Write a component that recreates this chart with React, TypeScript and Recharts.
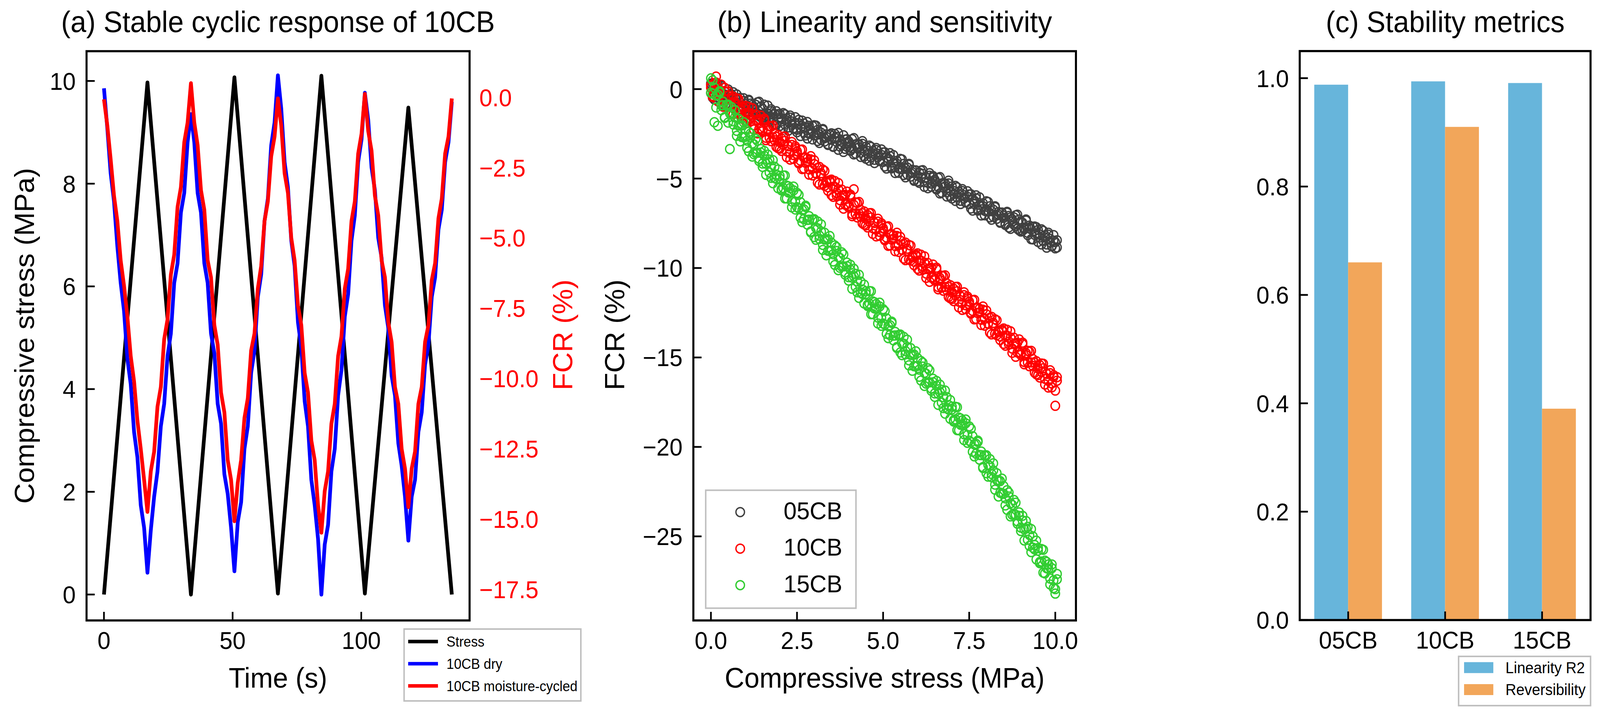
import React from 'react'
import { LineChart, Line, ScatterChart, Scatter, BarChart, Bar, XAxis, YAxis } from 'recharts'

const FONT = '"Liberation Sans", Arial, Helvetica, sans-serif'
const W = 4300
const H = 1830

// ---- (a) stable cyclic response of 10CB ----
const stressTime = [0, 16.9, 33.8, 50.7, 67.6, 84.5, 101.4, 118.3, 135.2]
const stressValue = [0, 9.97, 0, 10.07, 0.02, 10.1, 0.02, 9.48, 0]

const fcrTime = [
  0, 1.3, 2.6, 3.9, 5.2, 6.5, 7.8, 9.1, 10.4, 11.7, 13, 14.3, 15.6, 16.9,
  18.2, 19.5, 20.8, 22.1, 23.4, 24.7, 26, 27.3, 28.6, 29.9, 31.2, 32.5, 33.8,
  35.1, 36.4, 37.7, 39, 40.3, 41.6, 42.9, 44.2, 45.5, 46.8, 48.1, 49.4, 50.7,
  52, 53.3, 54.6, 55.9, 57.2, 58.5, 59.8, 61.1, 62.4, 63.7, 65, 66.3, 67.6,
  68.9, 70.2, 71.5, 72.8, 74.1, 75.4, 76.7, 78, 79.3, 80.6, 81.9, 83.2, 84.5,
  85.8, 87.1, 88.4, 89.7, 91, 92.3, 93.6, 94.9, 96.2, 97.5, 98.8, 100.1, 101.4,
  102.7, 104, 105.3, 106.6, 107.9, 109.2, 110.5, 111.8, 113.1, 114.4, 115.7, 117, 118.3,
  119.6, 120.9, 122.2, 123.5, 124.8, 126.1, 127.4, 128.7, 130, 131.3, 132.6, 133.9, 135.2,
]
const fcrDry = [
  0.32, -1.1, -2.7, -3.7, -5.3, -6.6, -7.6, -9.3, -10.2, -11.9, -12.8, -14.5, -15.3, -16.9,
  -15.4, -14.2, -13.3, -11.7, -10.9, -9.2, -8.4, -6.6, -5.9, -4.1, -3.4, -1.6, -0.6,
  -1.6, -3.4, -4.1, -5.9, -6.6, -8.4, -9.1, -10.9, -11.6, -13.4, -14.1, -15.3, -16.85,
  -15.1, -14.4, -12.5, -11.7, -9.8, -9.0, -7.1, -6.3, -4.4, -3.6, -1.7, -0.9, 0.78,
  -0.4, -2.3, -3.2, -5.1, -6.0, -8.0, -8.9, -10.8, -11.7, -13.6, -14.5, -15.7, -17.68,
  -15.9, -15.2, -13.3, -12.5, -10.6, -9.7, -7.8, -7.0, -5.1, -4.2, -2.3, -1.5, 0.16,
  -0.8, -2.5, -3.3, -5.0, -5.7, -7.4, -8.2, -9.9, -10.6, -12.3, -13.1, -14.2, -15.76,
  -14.2, -13.6, -11.9, -11.2, -9.5, -8.8, -7.1, -6.4, -4.7, -4.0, -2.3, -1.6, -0.16,
]
const fcrCycled = [
  -0.07, -1.0, -2.2, -3.5, -4.4, -5.8, -6.7, -7.8, -9.2, -10.1, -11.5, -12.5, -13.6, -14.74,
  -13.3, -12.6, -11.0, -10.3, -8.6, -7.9, -6.3, -5.6, -3.9, -3.2, -1.6, -0.9, 0.5,
  -0.9, -1.7, -3.3, -4.0, -5.8, -6.4, -8.1, -8.8, -10.5, -11.2, -12.9, -13.6, -15.07,
  -13.7, -12.9, -11.4, -10.7, -9.0, -8.4, -6.8, -6.0, -4.4, -3.7, -2.1, -1.4, -0.04,
  -1.0, -2.7, -3.4, -5.0, -5.8, -7.4, -8.1, -9.8, -10.5, -12.2, -12.9, -14.5, -15.48,
  -14.0, -13.3, -11.6, -10.9, -9.2, -8.5, -6.8, -6.1, -4.4, -3.7, -2.0, -1.3, 0.12,
  -1.2, -1.9, -3.5, -4.2, -5.8, -6.4, -8.0, -8.7, -10.3, -10.9, -12.5, -13.2, -14.57,
  -13.2, -12.6, -10.9, -10.3, -8.7, -8.1, -6.5, -5.9, -4.3, -3.6, -2.0, -1.4, -0.04,
]
const seriesA = ['Stress', '10CB dry', '10CB moisture-cycled']
const colorsA = ['#000000', '#0000ff', '#ff0000']

// ---- (b) linearity and sensitivity ----
const stressLevels = [
  0.00, 0.05, 0.10, 0.15, 0.20, 0.25, 0.30, 0.35, 0.40, 0.45,
  0.50, 0.55, 0.60, 0.65, 0.70, 0.75, 0.80, 0.85, 0.90, 0.95,
  1.00, 1.05, 1.10, 1.15, 1.20, 1.25, 1.30, 1.35, 1.40, 1.45,
  1.50, 1.55, 1.60, 1.65, 1.70, 1.75, 1.80, 1.85, 1.90, 1.95,
  2.00, 2.05, 2.10, 2.15, 2.20, 2.25, 2.30, 2.35, 2.40, 2.45,
  2.50, 2.55, 2.60, 2.65, 2.70, 2.75, 2.80, 2.85, 2.90, 2.95,
  3.00, 3.05, 3.10, 3.15, 3.20, 3.25, 3.30, 3.35, 3.40, 3.45,
  3.50, 3.55, 3.60, 3.65, 3.70, 3.75, 3.80, 3.85, 3.90, 3.95,
  4.00, 4.05, 4.10, 4.15, 4.20, 4.25, 4.30, 4.35, 4.40, 4.45,
  4.50, 4.55, 4.60, 4.65, 4.70, 4.75, 4.80, 4.85, 4.90, 4.95,
  5.00, 5.05, 5.10, 5.15, 5.20, 5.25, 5.30, 5.35, 5.40, 5.45,
  5.50, 5.55, 5.60, 5.65, 5.70, 5.75, 5.80, 5.85, 5.90, 5.95,
  6.00, 6.05, 6.10, 6.15, 6.20, 6.25, 6.30, 6.35, 6.40, 6.45,
  6.50, 6.55, 6.60, 6.65, 6.70, 6.75, 6.80, 6.85, 6.90, 6.95,
  7.00, 7.05, 7.10, 7.15, 7.20, 7.25, 7.30, 7.35, 7.40, 7.45,
  7.50, 7.55, 7.60, 7.65, 7.70, 7.75, 7.80, 7.85, 7.90, 7.95,
  8.00, 8.05, 8.10, 8.15, 8.20, 8.25, 8.30, 8.35, 8.40, 8.45,
  8.50, 8.55, 8.60, 8.65, 8.70, 8.75, 8.80, 8.85, 8.90, 8.95,
  9.00, 9.05, 9.10, 9.15, 9.20, 9.25, 9.30, 9.35, 9.40, 9.45,
  9.50, 9.55, 9.60, 9.65, 9.70, 9.75, 9.80, 9.85, 9.90, 9.95,
  10.00, 10.05,
]
// loading pass
const fcr05Load = [
  0.31, -0.47, 0.03, -0.22, 0.28, -0.5, -0.24, -0.83, -0.14, -0.56,
  -0.81, -0.32, -0.59, -0.18, -0.85, -0.59, -1.19, -0.49, -0.93, -0.51,
  -0.83, -1.25, -0.6, -1.45, -0.89, -1.11, -0.88, -1.35, -0.71, -1.57,
  -1.42, -0.87, -1.73, -1.37, -1.68, -1.13, -1.59, -1.39, -1.99, -1.4,
  -1.39, -1.8, -2.18, -1.41, -1.77, -2.14, -1.48, -1.99, -2.18, -1.88,
  -2.41, -1.91, -2.18, -1.76, -2.43, -2.16, -2.76, -2.05, -2.49, -2.06,
  -2.59, -2.04, -2.9, -2.53, -2.83, -2.28, -2.74, -2.53, -3.12, -2.53,
  -2.47, -3.23, -2.72, -2.95, -2.45, -3.21, -2.94, -3.51, -2.82, -3.22,
  -3.03, -3.45, -2.8, -3.65, -3.09, -3.31, -3.08, -3.55, -2.91, -3.77,
  -3.22, -3.62, -4.0, -3.23, -3.59, -3.95, -3.29, -3.8, -3.99, -3.68,
  -3.54, -4.32, -3.83, -4.07, -3.58, -4.36, -4.11, -4.69, -4.01, -4.43,
  -4.47, -3.93, -4.8, -4.45, -4.77, -4.23, -4.7, -4.51, -5.12, -4.54,
  -5.16, -4.67, -4.94, -4.53, -5.2, -4.94, -5.54, -4.84, -5.28, -4.86,
  -5.18, -5.61, -4.96, -5.83, -5.27, -5.5, -5.27, -5.76, -5.12, -5.99,
  -5.44, -5.86, -6.25, -5.49, -5.86, -6.24, -5.59, -6.11, -6.31, -6.02,
  -5.89, -6.67, -6.18, -6.43, -5.94, -6.72, -6.47, -7.06, -6.38, -6.8,
  -6.84, -6.31, -7.17, -6.82, -7.13, -6.6, -7.06, -6.87, -7.47, -6.9,
  -7.08, -7.51, -6.86, -7.73, -7.17, -7.4, -7.17, -7.66, -7.02, -7.89,
  -7.96, -7.47, -7.76, -7.35, -8.03, -7.77, -8.39, -7.69, -8.14, -7.72,
  -7.87, -8.29, -8.68, -7.92, -8.3, -8.68, -8.03, -8.55, -8.76, -8.47,
  -8.9, -8.45,
]
const fcr10Load = [
  0.08, -0.44, 0.33, 0.7, -0.07, -0.35, 0.25, -0.69, 0.07, -0.99,
  -0.34, -0.85, -1.32, -0.42, -0.86, -1.33, -0.55, -1.18, -1.42, -1.08,
  -0.93, -1.88, -1.32, -1.64, -1.07, -2.02, -1.74, -2.47, -1.68, -2.2,
  -2.27, -1.65, -2.72, -2.32, -2.72, -2.1, -2.69, -2.48, -3.23, -2.57,
  -3.33, -2.76, -3.12, -2.65, -3.48, -3.19, -3.94, -3.12, -3.68, -3.2,
  -3.62, -4.15, -3.4, -4.47, -3.83, -4.12, -3.88, -4.49, -3.75, -4.82,
  -4.19, -4.72, -5.23, -4.35, -4.82, -5.31, -4.57, -5.22, -5.49, -5.17,
  -5.06, -6.02, -5.47, -5.8, -5.25, -6.21, -5.94, -6.68, -5.91, -6.44,
  -6.52, -5.9, -6.98, -5.6, -6.98, -6.36, -6.96, -6.75, -7.5, -6.84,
  -7.61, -7.04, -7.4, -6.93, -7.77, -7.48, -8.23, -7.41, -7.98, -7.5,
  -7.92, -8.45, -7.7, -8.76, -8.12, -8.41, -8.17, -8.77, -8.03, -9.1,
  -8.47, -8.99, -9.47, -8.58, -9.04, -9.52, -8.75, -9.39, -9.65, -9.32,
  -9.18, -10.14, -9.59, -9.91, -9.35, -10.31, -10.04, -10.77, -9.99, -10.52,
  -10.6, -9.98, -11.06, -10.67, -11.08, -10.46, -11.06, -10.86, -11.62, -10.96,
  -11.73, -11.16, -11.52, -11.05, -11.88, -11.59, -12.34, -11.52, -12.08, -11.6,
  -12.02, -12.55, -11.8, -12.87, -12.23, -12.52, -12.28, -12.89, -12.15, -13.22,
  -12.59, -13.12, -13.61, -12.73, -13.19, -13.68, -12.92, -13.57, -13.83, -13.51,
  -13.38, -14.34, -13.78, -14.11, -13.54, -14.5, -14.22, -14.96, -14.17, -14.7,
  -14.77, -14.17, -15.25, -14.87, -15.28, -14.68, -15.28, -15.09, -15.85, -15.21,
  -15.98, -15.43, -15.8, -15.35, -16.19, -15.92, -16.68, -15.88, -16.45, -15.99,
  -17.7, -16.3,
]
const fcr15Load = [
  -0.2, 0.49, -1.85, -0.36, -2.05, -0.19, -0.91, -0.7, -1.61, -0.88,
  -0.87, -3.35, -1.39, -1.8, -1.18, -2.33, -2.04, -2.92, -2.03, -2.68,
  -2.24, -2.88, -3.48, -2.48, -3.04, -3.64, -2.78, -3.56, -3.89, -3.55,
  -4.35, -3.73, -4.17, -3.66, -4.66, -4.35, -5.26, -4.34, -5.02, -4.49,
  -5.0, -5.66, -4.83, -6.11, -5.4, -5.78, -5.53, -6.28, -5.45, -6.73,
  -6.6, -5.91, -7.19, -6.76, -7.27, -6.59, -7.31, -7.1, -8.01, -7.28,
  -7.27, -8.42, -7.78, -8.19, -7.56, -8.71, -8.41, -9.29, -8.39, -9.04,
  -8.59, -9.23, -9.83, -8.83, -9.39, -9.99, -9.13, -9.91, -10.24, -9.9,
  -10.7, -10.09, -10.54, -10.04, -11.05, -10.75, -11.67, -10.76, -11.45, -10.93,
  -11.45, -12.12, -11.29, -12.58, -11.87, -12.26, -12.01, -12.77, -11.94, -13.23,
  -13.1, -12.41, -13.68, -13.25, -13.75, -13.07, -13.78, -13.57, -14.47, -13.74,
  -13.72, -14.87, -14.23, -14.64, -14.01, -15.16, -14.86, -15.74, -14.84, -15.49,
  -15.04, -15.68, -16.29, -15.29, -15.86, -16.46, -15.61, -16.39, -16.73, -16.39,
  -17.2, -16.58, -17.03, -16.52, -17.53, -17.22, -18.14, -17.22, -17.91, -17.38,
  -17.9, -18.58, -17.76, -19.06, -18.36, -18.76, -18.52, -19.29, -18.47, -19.77,
  -19.65, -18.98, -20.27, -19.86, -20.38, -19.72, -20.45, -20.26, -21.18, -20.47,
  -20.47, -21.66, -21.06, -21.51, -20.92, -22.11, -21.85, -22.77, -21.91, -22.6,
  -22.19, -22.87, -23.51, -22.55, -23.15, -23.79, -22.97, -23.79, -24.16, -23.86,
  -24.7, -24.12, -24.61, -24.14, -25.19, -24.92, -25.88, -25.0, -25.73, -25.24,
  -25.8, -26.5, -25.71, -27.03, -26.36, -26.78, -26.57, -27.36, -26.57, -27.89,
  -28.2, -27.4,
]
// unloading pass, same stress levels
const fcr05Unload = [
  -0.22, 0.33, -0.58, -0.03, 0.11, -0.56, 0.18, -0.49, -0.3, -0.81,
  -0.02, -0.59, -0.3, -1.05, -0.49, -0.3, -1.0, -0.76, -1.18, -0.67,
  -0.95, -1.33, -0.65, -0.81, -1.53, -0.99, -1.29, -0.74, -1.5, -0.97,
  -1.1, -1.57, -1.47, -0.92, -1.78, -1.23, -1.42, -1.97, -1.24, -1.63,
  -2.06, -1.64, -1.34, -1.98, -1.64, -2.32, -1.59, -1.81, -2.21, -1.57,
  -2.27, -1.72, -2.62, -2.06, -1.92, -2.59, -1.84, -2.5, -2.31, -2.81,
  -2.02, -2.57, -2.28, -3.01, -2.44, -2.23, -2.93, -2.67, -3.08, -2.55,
  -2.83, -3.2, -2.51, -2.67, -3.39, -2.84, -3.13, -2.58, -3.34, -2.8,
  -2.92, -3.4, -3.3, -2.74, -3.6, -3.06, -3.25, -3.79, -3.06, -3.46,
  -3.89, -3.46, -3.16, -3.8, -3.46, -4.13, -3.4, -3.62, -4.02, -3.37,
  -4.07, -3.53, -4.44, -3.88, -3.75, -4.43, -3.69, -4.35, -4.17, -4.68,
  -3.9, -4.46, -4.18, -4.93, -4.38, -4.18, -4.89, -4.65, -5.08, -4.56,
  -4.85, -5.24, -4.56, -4.74, -5.46, -4.93, -5.23, -4.7, -5.46, -4.94,
  -5.07, -5.56, -5.46, -4.92, -5.78, -5.25, -5.44, -6.0, -5.27, -5.68,
  -6.11, -5.7, -5.41, -6.06, -5.73, -6.42, -5.7, -5.93, -6.34, -5.71,
  -6.42, -5.88, -6.79, -6.24, -6.11, -6.79, -6.05, -6.72, -6.54, -7.05,
  -6.27, -6.84, -6.55, -7.3, -6.74, -6.55, -7.25, -7.01, -7.43, -6.92,
  -7.2, -7.59, -6.91, -7.09, -7.81, -7.28, -7.58, -7.05, -7.81, -7.29,
  -7.42, -7.91, -7.83, -7.29, -8.16, -7.63, -7.84, -8.4, -7.68, -8.09,
  -8.54, -8.13, -7.84, -8.49, -8.17, -8.86, -8.14, -8.37, -8.79, -8.16,
  -8.55, -8.85,
]
const fcr10Unload = [
  0.22, -0.38, -0.27, 0.37, -0.68, -0.05, -0.29, -0.98, -0.11, -0.61,
  -0.13, -0.83, -0.49, -1.4, -0.74, -0.52, -1.38, -1.1, -1.61, -1.01,
  -1.79, -1.32, -0.99, -1.79, -1.42, -2.26, -1.42, -1.72, -2.23, -1.49,
  -2.36, -1.74, -2.85, -2.21, -2.07, -2.91, -2.04, -2.86, -2.67, -3.3,
  -2.96, -3.45, -2.66, -2.9, -3.8, -3.18, -3.57, -2.96, -3.9, -3.3,
  -3.48, -4.09, -4.0, -3.38, -4.44, -3.82, -4.08, -4.78, -3.93, -4.44,
  -3.98, -4.7, -4.4, -5.33, -4.7, -4.5, -5.4, -5.14, -5.68, -5.1,
  -5.92, -5.46, -5.14, -5.95, -5.6, -6.45, -5.62, -5.93, -6.46, -5.73,
  -6.61, -5.99, -7.1, -6.47, -6.33, -7.17, -6.31, -7.13, -6.94, -7.57,
  -7.24, -7.73, -6.94, -7.18, -8.09, -7.47, -7.86, -7.25, -8.2, -7.6,
  -7.78, -8.39, -8.3, -7.67, -8.73, -8.11, -8.37, -9.06, -8.21, -8.72,
  -8.26, -8.97, -8.64, -9.56, -8.92, -8.71, -9.58, -9.31, -9.84, -9.25,
  -10.04, -9.58, -9.26, -10.06, -9.7, -10.55, -9.72, -10.02, -10.54, -9.81,
  -10.69, -10.07, -11.19, -10.56, -10.43, -11.27, -10.41, -11.24, -11.06, -11.69,
  -11.36, -11.85, -11.06, -11.3, -12.2, -11.58, -11.97, -11.36, -12.3, -11.7,
  -11.88, -12.49, -12.4, -11.78, -12.84, -12.22, -12.48, -13.18, -12.33, -12.84,
  -12.38, -13.1, -12.78, -13.71, -13.07, -12.87, -13.75, -13.49, -14.02, -13.44,
  -14.24, -13.78, -13.45, -14.26, -13.89, -14.74, -13.9, -14.21, -14.72, -13.99,
  -14.86, -14.26, -15.38, -14.76, -14.63, -15.49, -14.63, -15.47, -15.29, -15.94,
  -15.61, -16.12, -15.34, -15.6, -16.51, -15.91, -16.31, -15.72, -16.67, -16.09,
  -16.85, -16.1,
]
const fcr15Unload = [
  0.6, -0.26, 0.08, -1.03, -0.32, -0.12, -1.17, -0.9, -1.56, -0.9,
  -1.87, -1.36, -1.01, -1.98, -1.58, -2.61, -1.66, -2.04, -2.68, -1.85,
  -2.67, -3.28, -2.39, -2.7, -3.77, -3.09, -3.57, -2.89, -4.02, -3.35,
  -4.16, -3.46, -4.79, -4.08, -3.94, -4.96, -3.97, -4.97, -4.77, -5.54,
  -4.85, -5.59, -5.53, -4.83, -6.11, -5.43, -5.77, -6.61, -5.66, -6.3,
  -5.8, -6.66, -6.32, -7.43, -6.72, -6.52, -7.57, -7.3, -7.96, -7.3,
  -8.27, -7.76, -7.4, -8.37, -7.96, -8.99, -8.03, -8.41, -9.04, -8.21,
  -9.02, -9.63, -8.74, -9.05, -10.12, -9.44, -9.92, -9.24, -10.37, -9.7,
  -10.51, -9.82, -11.16, -10.46, -10.33, -11.36, -10.38, -11.39, -11.2, -11.98,
  -11.3, -12.05, -11.99, -11.3, -12.58, -11.91, -12.25, -13.1, -12.15, -12.8,
  -12.3, -13.16, -12.81, -13.92, -13.2, -13.0, -14.04, -13.77, -14.42, -13.76,
  -14.72, -14.21, -13.85, -14.82, -14.41, -15.44, -14.48, -14.86, -15.49, -14.66,
  -15.47, -16.08, -15.2, -15.51, -16.59, -15.91, -16.4, -15.72, -16.86, -16.19,
  -17.01, -16.31, -17.65, -16.94, -16.81, -17.83, -16.85, -17.85, -17.66, -18.43,
  -17.75, -18.51, -18.46, -17.78, -19.07, -18.41, -18.76, -19.62, -18.68, -19.34,
  -18.85, -19.73, -19.4, -20.53, -19.83, -19.65, -20.71, -20.46, -21.13, -20.49,
  -21.47, -21.0, -20.68, -21.69, -21.32, -22.39, -21.47, -21.89, -22.56, -21.77,
  -22.62, -23.27, -22.42, -22.77, -23.88, -23.24, -23.76, -23.12, -24.29, -23.66,
  -24.51, -23.85, -25.23, -24.56, -24.47, -25.53, -24.59, -25.63, -25.48, -26.29,
  -25.65, -26.43, -26.41, -25.75, -27.07, -26.43, -26.81, -27.69, -26.78, -27.46,
  -27.95, -27.1,
]
const seriesB = ['05CB', '10CB', '15CB']
const colorsB = ['#404040', '#ff0000', '#32cd32']

// ---- (c) stability metrics ----
const samples = ['05CB', '10CB', '15CB']
const linearityR2 = [0.988, 0.994, 0.991]
const reversibility = [0.66, 0.91, 0.39]
const seriesC = ['Linearity R2', 'Reversibility']
const colorsC = ['#67b5db', '#f2a65a']

const neg = (s: string) => s.replace('-', '\u2212')
const fmtInt = (v: number) => neg(String(v))
const fmt1 = (v: number) => neg(v.toFixed(1))

const TICK_FS = 63

function leftTick(fmt: (v: number) => string) {
  return (p: any) => (
    <g>
      <line x1={p.x} x2={p.x + 22} y1={p.y} y2={p.y} stroke="#000" strokeWidth={4.5} />
      <text x={p.x - 29} y={p.y + 22.5} textAnchor="end" fontSize={TICK_FS} fontFamily={FONT} fill="#000">
        {fmt(p.payload.value)}
      </text>
    </g>
  )
}

function rightTick(fmt: (v: number) => string, color: string) {
  return (p: any) => (
    <text x={p.x + 26} y={p.y + 22.5} textAnchor="start" fontSize={TICK_FS} fontFamily={FONT} fill={color}>
      {fmt(p.payload.value)}
    </text>
  )
}

function bottomTick(fmt: (v: any) => string) {
  return (p: any) => (
    <g>
      <line x1={p.x} x2={p.x} y1={p.y - 22} y2={p.y} stroke="#000" strokeWidth={4.5} />
      <text x={p.x} y={p.y + 73} textAnchor="middle" fontSize={TICK_FS} fontFamily={FONT} fill="#000">
        {fmt(p.payload.value)}
      </text>
    </g>
  )
}

function ring(color: string) {
  return (p: any) => <circle cx={p.cx} cy={p.cy} r={11.5} fill="none" stroke={color} strokeWidth={3.5} />
}

export default function App() {
  const stressData = stressTime.map((t, i) => ({ t, v: stressValue[i] }))
  const dryData = fcrTime.map((t, i) => ({ t, v: fcrDry[i] }))
  const cycledData = fcrTime.map((t, i) => ({ t, v: fcrCycled[i] }))
  const passes = [
    [fcr05Load, fcr05Unload],
    [fcr10Load, fcr10Unload],
    [fcr15Load, fcr15Unload],
  ]
  const scatterSets = passes.map(([load, unload]) => [
    ...stressLevels.map((x, i) => ({ x, y: load[i] })),
    ...stressLevels.map((x, i) => ({ x, y: unload[i] })),
  ])
  const barData = samples.map((name, i) => ({ name, r2: linearityR2[i], rev: reversibility[i] }))

  // fit the 4300x1830 figure into whatever viewport we actually get
  const vw = typeof window !== 'undefined' && window.innerWidth ? window.innerWidth : W
  const vh = typeof window !== 'undefined' && window.innerHeight ? window.innerHeight : H
  const sx = vw / W
  const sy = vh / H

  return (
    <div style={{ position: 'fixed', left: 0, top: 0, width: '100vw', height: '100vh', overflow: 'hidden', background: '#fff' }}>
    <div style={{ position: 'absolute', left: 0, top: 0, width: W, height: H, background: '#fff', fontFamily: FONT,
      transform: `scale(${sx}, ${sy})`, transformOrigin: '0 0' }}>

      {/* (a) stress + FCR vs time, twin y axes */}
      <div style={{ position: 'absolute', left: 0, top: 0 }}>
        <LineChart width={1620} height={1830} margin={{ top: 131, right: 258, bottom: 142, left: 132.6 }}>
          <XAxis type="number" dataKey="t" domain={[-6.77, 142.1]} allowDataOverflow ticks={[0, 50, 100]}
            interval={0} axisLine={false} tickLine={false} tickSize={0} tickMargin={0} height={100}
            tick={bottomTick((v) => String(v))} />
          <YAxis yAxisId="left" type="number" domain={[-0.505, 10.58]} allowDataOverflow ticks={[0, 2, 4, 6, 8, 10]}
            interval={0} axisLine={false} tickLine={false} tickSize={0} tickMargin={0} width={100}
            tick={leftTick(fmtInt)} />
          <YAxis yAxisId="right" orientation="right" type="number" domain={[-18.6, 1.64]} allowDataOverflow
            ticks={[-17.5, -15, -12.5, -10, -7.5, -5, -2.5, 0]} interval={0} axisLine={false} tickLine={false}
            tickSize={0} tickMargin={0} width={100} tick={rightTick(fmt1, '#ff0000')} />
          <Line yAxisId="left" data={stressData} dataKey="v" type="linear" stroke={colorsA[0]} strokeWidth={10}
            strokeLinejoin="round" dot={false} isAnimationActive={false} />
          <Line yAxisId="right" data={dryData} dataKey="v" type="linear" stroke={colorsA[1]} strokeWidth={10}
            strokeLinejoin="round" dot={false} isAnimationActive={false} />
          <Line yAxisId="right" data={cycledData} dataKey="v" type="linear" stroke={colorsA[2]} strokeWidth={10}
            strokeLinejoin="round" dot={false} isAnimationActive={false} />
        </LineChart>
      </div>

      {/* (b) FCR vs stress scatter */}
      <div style={{ position: 'absolute', left: 1640, top: 0 }}>
        <ScatterChart width={1300} height={1830} margin={{ top: 131, right: 48.4, bottom: 142, left: 123.4 }}>
          <XAxis type="number" dataKey="x" domain={[-0.51, 10.6]} allowDataOverflow ticks={[0, 2.5, 5, 7.5, 10]}
            interval={0} axisLine={false} tickLine={false} tickSize={0} tickMargin={0} height={100}
            tick={bottomTick(fmt1)} />
          <YAxis type="number" dataKey="y" domain={[-29.7, 2.12]} allowDataOverflow ticks={[-25, -20, -15, -10, -5, 0]}
            interval={0} axisLine={false} tickLine={false} tickSize={0} tickMargin={0} width={100}
            tick={leftTick(fmtInt)} />
          {scatterSets.map((d, i) => (
            <Scatter key={seriesB[i]} name={seriesB[i]} data={d} shape={ring(colorsB[i])} isAnimationActive={false} />
          ))}
        </ScatterChart>
      </div>

      {/* (c) grouped bars */}
      <div style={{ position: 'absolute', left: 3300, top: 0 }}>
        <BarChart width={1000} height={1830} data={barData} barCategoryGap="15%" barGap={0}
          margin={{ top: 130.7, right: 25.4, bottom: 143, left: 93 }}>
          <XAxis dataKey="name" axisLine={false} tickLine={false} tickSize={0} tickMargin={0} height={100}
            interval={0} tick={bottomTick((v) => String(v))} />
          <YAxis type="number" domain={[0, 1.05]} allowDataOverflow ticks={[0, 0.2, 0.4, 0.6, 0.8, 1.0]}
            interval={0} axisLine={false} tickLine={false} tickSize={0} tickMargin={0} width={100}
            tick={leftTick(fmt1)} />
          <Bar dataKey="r2" name={seriesC[0]} fill={colorsC[0]} isAnimationActive={false} />
          <Bar dataKey="rev" name={seriesC[1]} fill={colorsC[1]} isAnimationActive={false} />
        </BarChart>
      </div>

      {/* frames, titles, axis labels and legends */}
      <svg width={W} height={H} style={{ position: 'absolute', left: 0, top: 0, pointerEvents: 'none' }}
        fontFamily={FONT}>
        <rect x={232.6} y={131} width={1029.4} height={1457} fill="none" stroke="#000" strokeWidth={5.5} />
        <rect x={1863.4} y={131} width={1028.2} height={1457} fill="none" stroke="#000" strokeWidth={5.5} />
        <rect x={3493} y={130.7} width={781.6} height={1456.3} fill="none" stroke="#000" strokeWidth={5.5} />

        <text x={747} y={82} textAnchor="middle" fontSize={76}>(a) Stable cyclic response of 10CB</text>
        <text x={2377.5} y={82} textAnchor="middle" fontSize={76}>(b) Linearity and sensitivity</text>
        <text x={3884} y={82} textAnchor="middle" fontSize={76}>(c) Stability metrics</text>

        <text x={747} y={1760} textAnchor="middle" fontSize={73}>Time (s)</text>
        <text x={2377.5} y={1760} textAnchor="middle" fontSize={73}>Compressive stress (MPa)</text>
        <text transform="translate(91,859.5) rotate(-90)" textAnchor="middle" fontSize={73}>Compressive stress (MPa)</text>
        <text transform="translate(1538,857) rotate(-90)" textAnchor="middle" fontSize={73} fill="#ff0000">FCR (%)</text>
        <text transform="translate(1678,857) rotate(-90)" textAnchor="middle" fontSize={73}>FCR (%)</text>

        {/* legend (a) */}
        <rect x={1086} y={1610} width={475} height={184} fill="#fff" stroke="#bfbfbf" strokeWidth={4} />
        {seriesA.map((name, i) => {
          const y = 1642 + i * 56.8
          return (
            <g key={name}>
              <line x1={1097} x2={1177} y1={y} y2={y} stroke={colorsA[i]} strokeWidth={9} />
              <text x={1200} y={y + 13} fontSize={36}>{name}</text>
            </g>
          )
        })}

        {/* legend (b) */}
        <rect x={1896.6} y={1254.7} width={403.8} height={301.9} fill="#fff" stroke="#bfbfbf" strokeWidth={4} />
        {seriesB.map((name, i) => {
          const y = 1310.7 + i * 93.5
          return (
            <g key={name}>
              <circle cx={1989.3} cy={y} r={11.5} fill="none" stroke={colorsB[i]} strokeWidth={3.5} />
              <text x={2106} y={y + 18} fontSize={63}>{name}</text>
            </g>
          )
        })}

        {/* legend (c) */}
        <rect x={3920} y={1680} width={354.6} height={126} fill="#fff" stroke="#bfbfbf" strokeWidth={4} />
        {seriesC.map((name, i) => {
          const y = 1708.7 + i * 56.3
          return (
            <g key={name}>
              <rect x={3934.7} y={y - 14} width={78.6} height={28} fill={colorsC[i]} />
              <text x={4046} y={y + 14} fontSize={40}>{name}</text>
            </g>
          )
        })}
      </svg>
    </div>
    </div>
  )
}
